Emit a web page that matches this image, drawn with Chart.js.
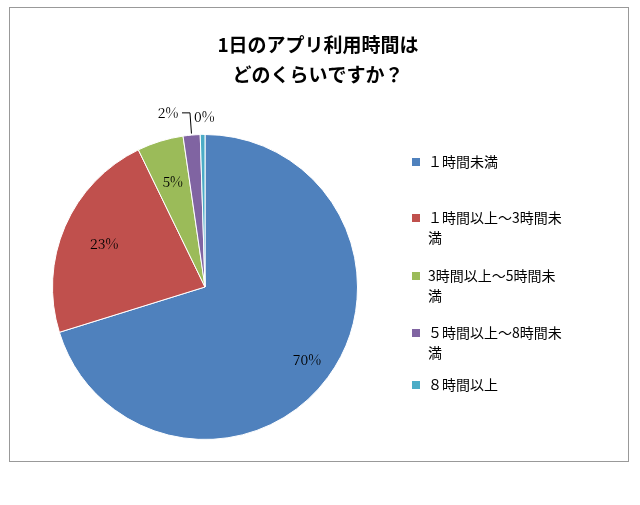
<!DOCTYPE html>
<html><head><meta charset="utf-8">
<script src="https://cdn.jsdelivr.net/npm/chart.js@4/dist/chart.umd.min.js"></script>
<style>
body{margin:0;background:#fff;}
#wrap{position:relative;width:640px;height:505px;}
#frame{position:absolute;left:9px;top:7px;width:620px;height:455px;border:1px solid #999;box-sizing:border-box;}
canvas{position:absolute;left:0;top:0;}
</style></head><body>
<div id="wrap"><div id="frame"></div><canvas id="c" width="640" height="505"></canvas></div>
<script>
const categories=["１時間未満","１時間以上～3時間未満","3時間以上～5時間未満","５時間以上～8時間未満","８時間以上"];
const legendLines=[["１時間未満"],["１時間以上～3時間未","満"],["3時間以上～5時間未","満"],["５時間以上～8時間未","満"],["８時間以上"]];
const values=[70.2,22.6,4.9,1.8,0.5];
const pctLabels=["70%","23%","5%","2%","0%"];
const colors=["#4F81BD","#C0504D","#9BBB59","#8064A2","#4BACC6"];
const titleLines=["1日のアプリ利用時間は","どのくらいですか？"];
const font='"Noto Serif CJK JP","Noto Sans CJK JP",serif';
const deco={id:'deco',afterDraw(ch){
  const c=ch.ctx;c.save();
  c.fillStyle='#000';c.textAlign='center';c.textBaseline='middle';
  c.font='bold 19px "Noto Sans CJK JP"';
  c.fillText(titleLines[0],318,45);c.fillText(titleLines[1],318,75);
  const meta=ch.getDatasetMeta(0);
  c.font='14px '+font;
  meta.data.forEach((a,i)=>{
    const mid=(a.startAngle+a.endAngle)/2;
    const r=a.outerRadius;
    let f=i<3?0.72:1.12;
    let x=a.x+Math.cos(mid)*r*f,y=a.y+Math.sin(mid)*r*f;
    if(i==3){x-=22;y-=4;
      c.strokeStyle='#000';c.lineWidth=1;c.beginPath();
      c.moveTo(x+14,y);c.lineTo(x+22,y);c.lineTo(a.x+Math.cos(mid)*r*1.01,a.y+Math.sin(mid)*r*1.01);c.stroke();}
    if(i==4){y-=0;x+=2;}
    if(i==0){x=307;y=360;}
    c.fillText(pctLabels[i],x,y);
  });
  c.textAlign='left';c.font='14px "Noto Sans CJK JP"';
  const ys=[[162],[218,238],[276,296],[333,353],[385]];
  legendLines.forEach((ls,i)=>{
    c.fillStyle=colors[i];c.fillRect(412,ys[i][0]-4,8,8);
    c.fillStyle='#000';
    ls.forEach((t,j)=>c.fillText(t,428,ys[i][j]));
  });
  c.restore();
}};
new Chart(document.getElementById('c'),{type:'pie',
 data:{labels:categories,datasets:[{data:values,backgroundColor:colors,borderColor:'#fff',borderWidth:1}]},
 options:{responsive:false,animation:false,layout:{padding:{left:52,right:282,top:134,bottom:65}},
  plugins:{legend:{display:false},tooltip:{enabled:false},title:{display:false}}},
 plugins:[deco]});
</script></body></html>
